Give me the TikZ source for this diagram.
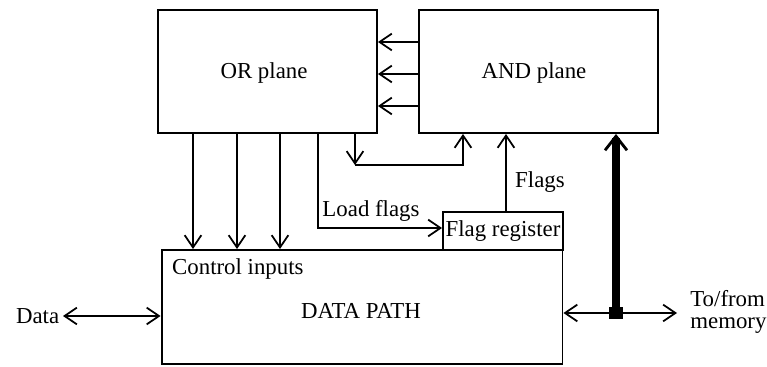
\documentclass[tikz,border=0pt]{standalone}
\usepackage{fontspec}
\setmainfont{Liberation Serif}
\usetikzlibrary{arrows.meta}

\begin{document}
\begin{tikzpicture}[x=0.02cm, y=-0.02cm, font=\fontsize{13}{15}\selectfont,
  block/.style={draw, line width=1.1pt, inner sep=0pt},
  arr/.style={-{Straight Barb[length=7pt, width=9.5pt, line width=1pt]}, line width=1pt},
  darr/.style={{Straight Barb[length=7pt, width=9.5pt, line width=1pt]}-{Straight Barb[length=7pt, width=9.5pt, line width=1pt]}, line width=1pt},
  bus/.style={-{Straight Barb[length=8pt, width=12.5pt, line width=1.6pt]}, line width=4pt}]
  \useasboundingbox (0,0) rectangle (767,367);
  % Blocks
  \node[block, minimum width=4.38cm, minimum height=2.46cm] (orpl) at (267.5,71.5) {};
  \node (ortxt) at (264,73) {OR plane};
  \node[block, minimum width=4.78cm, minimum height=2.46cm] (andpl) at (538.5,71.5) {};
  \node (andtxt) at (534,73) {AND plane};
  \node[block, minimum width=2.40cm, minimum height=0.76cm] (flagreg) at (503,231) {Flag register};
  \node[block, minimum width=8.02cm, minimum height=2.28cm] (dp) at (362,307) {};
  \node (dptxt) at (361,311) {DATA PATH};
  \node[anchor=west] (ctrl) at (166,269) {Control inputs};
  % Terms from AND plane to OR plane
  \foreach \y in {42,74,106}
    \draw[arr] (andpl.west |- 0,\y) -- (orpl.east |- 0,\y);
  % Control lines into the data path
  \foreach \x in {193,237,280}
    \draw[arr] (\x,0 |- orpl.south) -- (\x,0 |- dp.north);
  % Feedback loop
  \coordinate (lpa) at (355,165);
  \coordinate (lpb) at (463,165);
  \draw[arr] (lpa |- orpl.south) -- (lpa);
  \draw[arr] (lpa) -- (lpb) -- (lpb |- andpl.south);
  % Load flags
  \coordinate (ldc) at (318,228);
  \draw[arr] (ldc |- orpl.south) -- (ldc) -- (ldc -| flagreg.west);
  \node (ldtxt) at (371,211) {Load flags};
  % Flags
  \draw[arr] (506,0 |- flagreg.north) -- (506,0 |- andpl.south);
  \node[anchor=west] (flagtxt) at (509,182) {Flags};
  % Data port
  \node[anchor=east, inner sep=2pt] (datatxt) at (63,316) {Data};
  \draw[darr] (datatxt.east) -- (datatxt.east -| dp.west);
  % Memory port and bus
  \node[anchor=west, align=left, inner sep=0pt] (mem) at (690,312) {To/from\\[-2pt]memory};
  \node[fill=black, inner sep=0pt, minimum width=0.28cm, minimum height=0.24cm] (bj) at (616,313) {};
  \draw[darr] (dp.east |- bj) -- (677,313);
  \draw[bus] (bj.center) -- (bj |- andpl.south);
\end{tikzpicture}
\end{document}
